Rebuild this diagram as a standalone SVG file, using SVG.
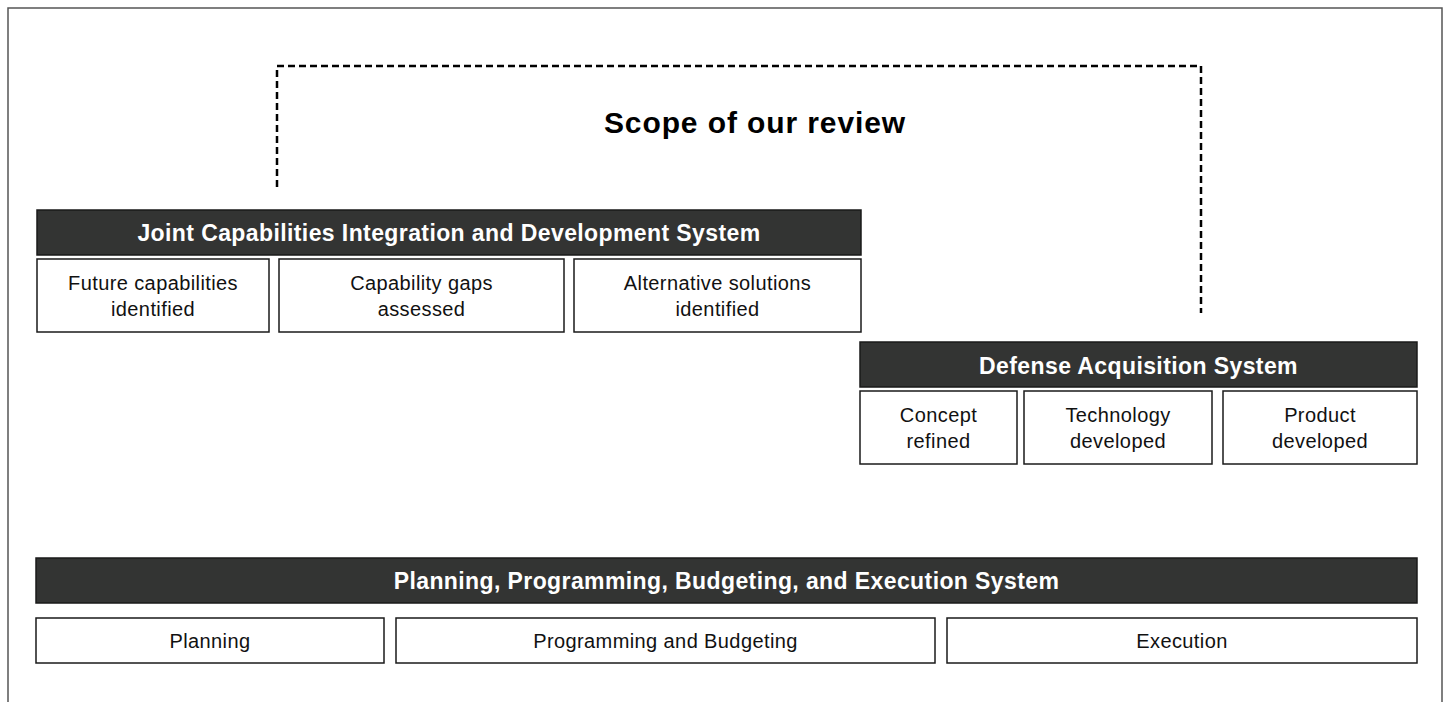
<svg xmlns="http://www.w3.org/2000/svg" width="1447" height="702" viewBox="0 0 1447 702">
<style>
.bar{fill:#333433;stroke:#1a1a1a;stroke-width:1.5}
.box{fill:#fff;stroke:#1a1a1a;stroke-width:1.5}
.bt{font-family:"Liberation Sans",Arial,sans-serif;font-weight:bold;font-size:23px;letter-spacing:0.4px;fill:#fff;text-anchor:middle}
.t{font-family:"Liberation Sans",Arial,sans-serif;font-size:20px;letter-spacing:0.4px;fill:#111;text-anchor:middle}
.title{font-family:"Liberation Sans",Arial,sans-serif;font-weight:bold;font-size:30px;letter-spacing:0.9px;fill:#000;text-anchor:middle}
</style>
<rect width="1447" height="702" fill="#fff"/>
<path d="M8,702 V8 H1442 V702" fill="none" stroke="#555" stroke-width="1.5"/>
<g id="connectors">
<path d="M277,187 V66 H1201 V313" fill="none" stroke="#000" stroke-width="2.5" stroke-dasharray="7,4"/>
</g>
<text class="title" x="755" y="133">Scope of our review</text>
<g id="jcids">
<rect class="bar" x="37" y="210" width="824" height="45"/>
<text class="bt" x="449" y="241">Joint Capabilities Integration and Development System</text>
</g>
<g id="jcids-1">
<rect class="box" x="37" y="259" width="232" height="73"/>
<text class="t" x="153" y="290">Future capabilities</text>
<text class="t" x="153" y="316">identified</text>
</g>
<g id="jcids-2">
<rect class="box" x="279" y="259" width="285" height="73"/>
<text class="t" x="421.5" y="290">Capability gaps</text>
<text class="t" x="421.5" y="316">assessed</text>
</g>
<g id="jcids-3">
<rect class="box" x="574" y="259" width="287" height="73"/>
<text class="t" x="717.5" y="290">Alternative solutions</text>
<text class="t" x="717.5" y="316">identified</text>
</g>
<g id="das">
<rect class="bar" x="860" y="342" width="557" height="45"/>
<text class="bt" x="1138.5" y="374">Defense Acquisition System</text>
</g>
<g id="das-1">
<rect class="box" x="860" y="391" width="157" height="73"/>
<text class="t" x="938.5" y="422">Concept</text>
<text class="t" x="938.5" y="448">refined</text>
</g>
<g id="das-2">
<rect class="box" x="1024" y="391" width="188" height="73"/>
<text class="t" x="1118" y="422">Technology</text>
<text class="t" x="1118" y="448">developed</text>
</g>
<g id="das-3">
<rect class="box" x="1223" y="391" width="194" height="73"/>
<text class="t" x="1320" y="422">Product</text>
<text class="t" x="1320" y="448">developed</text>
</g>
<g id="ppbes">
<rect class="bar" x="36" y="558" width="1381" height="45"/>
<text class="bt" x="726.5" y="589">Planning, Programming, Budgeting, and Execution System</text>
</g>
<g id="ppbes-1">
<rect class="box" x="36" y="618" width="348" height="45"/>
<text class="t" x="210" y="648">Planning</text>
</g>
<g id="ppbes-2">
<rect class="box" x="396" y="618" width="539" height="45"/>
<text class="t" x="665.5" y="648">Programming and Budgeting</text>
</g>
<g id="ppbes-3">
<rect class="box" x="947" y="618" width="470" height="45"/>
<text class="t" x="1182" y="648">Execution</text>
</g>
</svg>
